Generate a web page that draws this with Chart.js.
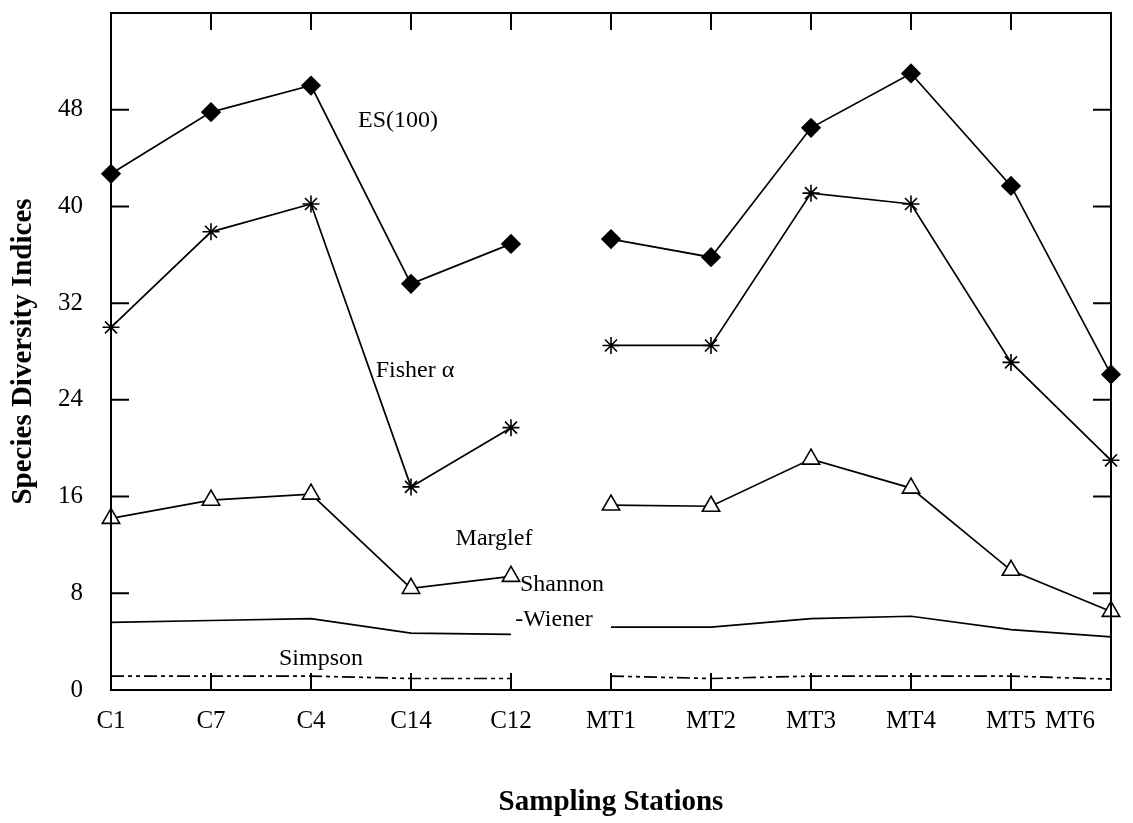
<!DOCTYPE html>
<html>
<head>
<meta charset="utf-8">
<script src="https://cdn.jsdelivr.net/npm/chart.js@4.4.1/dist/chart.umd.min.js"></script>
<style>
  html, body { margin: 0; padding: 0; background: #fff; }
  #wrap { width: 1133px; height: 823px; }
</style>
</head>
<body>
<div id="wrap"><canvas id="grafico"></canvas></div>
<script>
// estaciones de muestreo
const estaciones = ['C1', 'C7', 'C4', 'C14', 'C12', 'MT1', 'MT2', 'MT3', 'MT4', 'MT5', 'MT6'];

// indices de diversidad
const es100    = [42.7, 47.8, 50.0, 33.6, 36.9, 37.3, 35.8, 46.5, 51.0, 41.7, 26.1];
const fisher   = [30.0, 37.9, 40.2, 16.8, 21.7, 28.5, 28.5, 41.1, 40.2, 27.1, 19.0];
const margalef = [14.2, 15.7, 16.2, 8.4, 9.4, 15.3, 15.2, 19.1, 16.7, 9.9, 6.5];
const shannon  = [5.6, 5.75, 5.9, 4.7, 4.6, 5.2, 5.2, 5.9, 6.1, 5.0, 4.4];
const simpson  = [1.15, 1.15, 1.15, 0.95, 0.95, 1.15, 0.95, 1.15, 1.15, 1.15, 0.9];

const yTicks = [0, 8, 16, 24, 32, 40, 48, 56];

// etiquetas dentro del grafico: [texto, indice x, valor y]
const etiquetas = [
    ['ES(100)', 2.87, 47.1],
    ['Fisher α', 3.04, 26.4],
    ['Marglef', 3.83, 12.5],
    ['Shannon', 4.51, 8.7],
    ['-Wiener', 4.43, 5.8],
    ['Simpson', 2.10, 2.6]
];

const FUENTE = "'Liberation Serif', 'Times New Roman', serif";
const ultima = estaciones.length - 1;

// corte entre C12 y MT1 (no se une la linea)
const cortar = { borderColor: ctx => ctx.p0DataIndex === 4 ? 'rgba(0,0,0,0)' : undefined };

const base = {
    borderColor: '#000', borderWidth: 1.7, tension: 0, clip: false,
    pointBorderColor: '#000', pointBorderWidth: 1.6, segment: cortar
};

// marco, marcas internas y textos
const marcoPlugin = {
    id: 'marco',
    afterDatasetsDraw(chart) {
        const { ctx, chartArea: a, scales: { x, y } } = chart;
        ctx.save();
        ctx.strokeStyle = '#000';
        ctx.lineWidth = 2;
        ctx.strokeRect(a.left, a.top, a.right - a.left, a.bottom - a.top);

        ctx.beginPath();
        for (let i = 1; i < ultima; i++) {
            const px = x.getPixelForValue(i);
            ctx.moveTo(px, a.bottom); ctx.lineTo(px, a.bottom - 17);
            ctx.moveTo(px, a.top); ctx.lineTo(px, a.top + 17);
        }
        yTicks.slice(1, -1).forEach(v => {
            const py = y.getPixelForValue(v);
            ctx.moveTo(a.left, py); ctx.lineTo(a.left + 18, py);
            ctx.moveTo(a.right, py); ctx.lineTo(a.right - 18, py);
        });
        ctx.stroke();

        ctx.fillStyle = '#000';
        ctx.font = '24px ' + FUENTE;
        ctx.textAlign = 'center';
        ctx.textBaseline = 'middle';
        etiquetas.forEach(([t, xi, yv]) => {
            ctx.fillText(t, x.getPixelForValue(xi), y.getPixelForValue(yv));
        });

        // la ultima estacion va metida hacia dentro para que no se corte
        ctx.font = '25px ' + FUENTE;
        ctx.textAlign = 'right';
        ctx.textBaseline = 'top';
        ctx.fillText(estaciones[ultima], chart.width - 38, a.bottom + 19);
        ctx.restore();
    }
};

new Chart(document.getElementById('grafico'), {
    type: 'line',
    data: {
        labels: estaciones,
        datasets: [
            { ...base, label: 'ES(100)', data: es100, pointStyle: 'rectRot', pointRadius: 9, pointBackgroundColor: '#000' },
            { ...base, label: 'Fisher α', data: fisher, pointStyle: 'star', pointRadius: 8.5, pointBackgroundColor: '#000' },
            { ...base, label: 'Marglef', data: margalef, pointStyle: 'triangle', pointRadius: 10, pointBackgroundColor: '#fff' },
            { ...base, label: 'Shannon-Wiener', data: shannon, pointRadius: 0 },
            { ...base, label: 'Simpson', data: simpson, pointRadius: 0, borderDash: [13, 4, 4, 4, 4, 4] }
        ]
    },
    options: {
        responsive: true, maintainAspectRatio: false, animation: false,
        layout: { padding: { top: 13, right: 22, bottom: 0, left: 0 } },
        plugins: { legend: { display: false }, tooltip: { enabled: false } },
        scales: {
            x: {
                grid: { display: false, drawTicks: false },
                border: { display: false },
                ticks: { color: '#000', padding: 16, font: { family: FUENTE, size: 25 }, maxRotation: 0, autoSkip: false,
                         callback: (v, i) => i === ultima ? '' : estaciones[i] },
                title: { display: true, text: 'Sampling Stations', color: '#000', padding: { top: 0, bottom: 3 },
                         font: { family: FUENTE, size: 29, weight: 'bold' } },
                afterFit: s => { s.height = 133; s.paddingLeft = 0; s.paddingRight = 0; }
            },
            y: {
                min: 0, max: 56,
                grid: { display: false, drawTicks: false },
                border: { display: false },
                ticks: { stepSize: 8, color: '#000', padding: 28, font: { family: FUENTE, size: 25 },
                         callback: v => v === 56 ? '' : v },
                title: { display: true, text: 'Species Diversity Indices', color: '#000', padding: { top: 6, bottom: 0 },
                         font: { family: FUENTE, size: 29, weight: 'bold' } },
                afterFit: s => { s.width = 111; s.paddingTop = 0; s.paddingBottom = 0; }
            }
        }
    },
    plugins: [marcoPlugin]
});
</script>
</body>
</html>
